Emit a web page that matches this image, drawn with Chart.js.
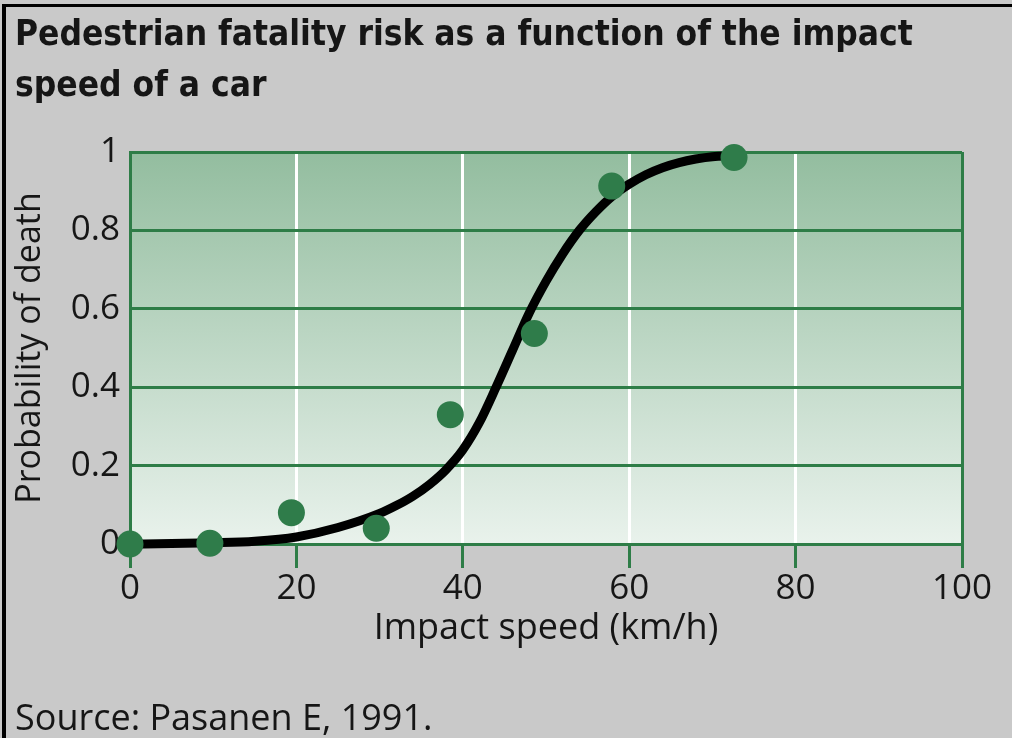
<!DOCTYPE html>
<html>
<head>
<meta charset="utf-8">
<script src="https://cdn.jsdelivr.net/npm/chart.js@4/dist/chart.umd.min.js"></script>
<style>
  html, body { margin: 0; padding: 0; }
  body { width: 1012px; height: 738px; background: #c9c9c9; position: relative; overflow: hidden; }
  #frameTop { position: absolute; left: 2px; top: 4px; width: 1010px; height: 3px; background: #000; }
  #frameLeft { position: absolute; left: 2px; top: 4px; width: 4px; height: 734px; background: #000; }
  canvas { position: absolute; left: 0; top: 0; }
</style>
</head>
<body>
<canvas id="c" width="1012" height="738"></canvas>
<div id="frameTop"></div>
<div id="frameLeft"></div>
<script>
// ---- data ----
const titleLines = ['Pedestrian fatality risk as a function of the impact', 'speed of a car'];
const sourceText = 'Source: Pasanen E, 1991.';
const xTitle = 'Impact speed (km/h)';
const yTitle = 'Probability of death';

const observedSpeed = [0, 9.6, 19.4, 29.6, 38.5, 48.6, 57.9, 72.6];
const observedRisk  = [0, 0.002, 0.08, 0.04, 0.33, 0.537, 0.913, 0.986];

const curveSpeed = [0, 5, 10, 15, 20, 25, 30, 32, 34, 36, 38, 40, 42, 44, 46, 48, 50, 52, 54, 56, 58, 60, 62, 64, 66, 68, 70, 72.5];
const curveRisk  = [0, 0.001, 0.003, 0.007, 0.018, 0.042, 0.078, 0.098, 0.122, 0.152, 0.19, 0.24, 0.31, 0.40, 0.495, 0.59, 0.67, 0.74, 0.8, 0.848, 0.888, 0.918, 0.942, 0.96, 0.973, 0.982, 0.988, 0.99];

const xTicks = [0, 20, 40, 60, 80, 100];
const yTicks = [0, 0.2, 0.4, 0.6, 0.8, 1];

// ---- styling ----
const GREEN = '#2e7d47';
const DOT = '#2f7c4a';
const TEXT = '#161616';
const FONT = "'Open Sans', 'Noto Sans', sans-serif";

const plotBg = {
  id: 'plotBg',
  beforeDraw(chart) {
    const {ctx, chartArea: a} = chart;
    const g = ctx.createLinearGradient(0, a.top, 0, a.bottom);
    g.addColorStop(0, '#93bd9f');
    g.addColorStop(1, '#e9f2ec');
    ctx.save();
    ctx.fillStyle = g;
    ctx.fillRect(a.left, a.top, a.right - a.left, a.bottom - a.top);
    ctx.restore();
  }
};

const observed = observedSpeed.map((x, i) => ({x, y: observedRisk[i]}));
const curve = curveSpeed.map((x, i) => ({x, y: curveRisk[i]}));

new Chart(document.getElementById('c'), {
  type: 'scatter',
  data: {
    datasets: [
      {
        data: observed,
        backgroundColor: DOT,
        borderWidth: 0,
        pointRadius: 13.5,
        pointHoverRadius: 13.5,
        order: 0,
        clip: false
      },
      {
        data: curve,
        showLine: true,
        borderColor: '#000',
        borderWidth: 9,
        pointRadius: 0,
        cubicInterpolationMode: 'monotone',
        order: 1,
        clip: false
      }
    ]
  },
  options: {
    responsive: false,
    animation: false,
    events: [],
    layout: { padding: { left: 15, right: 50, top: 0, bottom: 0 } },
    plugins: {
      legend: { display: false },
      tooltip: { enabled: false },
      title: {
        display: true,
        text: titleLines,
        align: 'start',
        color: TEXT,
        font: { family: "'Liberation Sans Narrow', 'DejaVu Sans Condensed', sans-serif", size: 35, weight: 'bold', lineHeight: 1.45 },
        padding: { top: 11, bottom: 39.5 }
      },
      subtitle: {
        display: true,
        position: 'bottom',
        text: sourceText,
        align: 'start',
        color: TEXT,
        font: { family: FONT, size: 36, lineHeight: 1.0 },
        padding: { top: 0, bottom: 0 }
      }
    },
    scales: {
      x: {
        type: 'linear',
        min: 0,
        max: 100,
        afterBuildTicks(scale) { scale.ticks = xTicks.map(v => ({value: v})); },
        afterFit(scale) { scale.height = 158; },
        grid: {
          z: -2,
          color: ctx => (ctx.tick && (ctx.tick.value === 0 || ctx.tick.value === 100)) ? GREEN : '#ffffff',
          lineWidth: 3,
          tickColor: GREEN,
          tickLength: 24,
          drawTicks: true
        },
        border: { display: true, color: GREEN, width: 3 },
        ticks: { color: TEXT, font: { family: FONT, size: 35 }, padding: 0, maxRotation: 0 },
        title: {
          display: true,
          text: xTitle,
          color: TEXT,
          font: { family: FONT, size: 36, lineHeight: 1.2 },
          padding: { top: 0, bottom: 52 }
        }
      },
      y: {
        type: 'linear',
        min: 0,
        max: 1,
        afterBuildTicks(scale) { scale.ticks = yTicks.map(v => ({value: v})); },
        afterFit(scale) { scale.width = 115; },
        grid: {
          z: -1,
          color: GREEN,
          lineWidth: 3,
          drawTicks: false
        },
        border: { display: true, color: GREEN, width: 3 },
        ticks: { color: TEXT, font: { family: FONT, size: 35 }, padding: 10,
                 callback: v => String(Math.round(v * 10) / 10) },
        title: {
          display: true,
          text: yTitle,
          color: TEXT,
          font: { family: FONT, size: 34, lineHeight: 0.9 },
          padding: { top: 0, bottom: 0 }
        }
      }
    }
  },
  plugins: [plotBg]
});
</script>
</body>
</html>
